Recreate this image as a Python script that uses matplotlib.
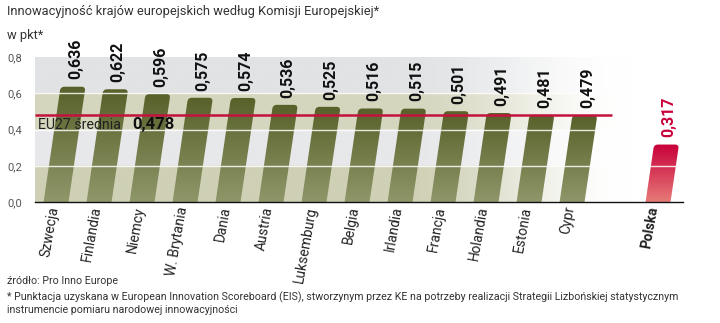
import numpy as np
import matplotlib
matplotlib.use("Agg")
import matplotlib.pyplot as plt
from matplotlib.patches import FancyBboxPatch
from matplotlib.transforms import Affine2D
from matplotlib.colors import to_rgb

countries = ["Szwecja", "Finlandia", "Niemcy", "W. Brytania", "Dania", "Austria",
             "Luksemburg", "Belgia", "Irlandia", "Francja", "Holandia", "Estonia", "Cypr"]
values = [0.636, 0.622, 0.596, 0.575, 0.574, 0.536, 0.525, 0.516, 0.515, 0.501,
          0.491, 0.481, 0.479]
poland_label = "Polska"
poland_value = 0.317
eu_avg = 0.478
yticks = [0.0, 0.2, 0.4, 0.6, 0.8]
ytick_labels = ["0,0", "0,2", "0,4", "0,6", "0,8"]

title = "Innowacyjność krajów europejskich według Komisji Europejskiej*"
unit = "w pkt*"
source = "źródło: Pro Inno Europe"
note1 = ("* Punktacja uzyskana w European Innovation Scoreboard (EIS), stworzynym przez KE "
         "na potrzeby realizacji Strategii Lizbońskiej statystycznym")
note2 = "instrumencie pomiaru narodowej innowacyjności"

TXT = ["Roboto", "DejaVu Sans"]
NUM = ["Roboto", "DejaVu Sans"]

fig = plt.figure(figsize=(7.2, 3.23), dpi=100)
ax = fig.add_axes([35 / 720, 1 - 202 / 323, (683 - 35) / 720, 145 / 323])
xmin, xmax = -0.49, 14.58
ax.set_xlim(xmin, xmax)
ax.set_ylim(0, 0.8)

# background bands fading to white on the right
band_cols = ["#cfd0b5", "#e7e8ea", "#d5d6be", "#e1e3e5"]
ny, nx = 400, 600
img = np.ones((ny, nx, 3))
yy = np.linspace(0, 0.8, ny, endpoint=False)
px = 35 + np.linspace(0, 1, nx) * (683 - 35)
t = np.clip((px - 400) / (630 - 400), 0, 1)
t = t * t * (3 - 2 * t)
for r in range(ny):
    c = np.array(to_rgb(band_cols[min(int(yy[r] / 0.2), 3)]))
    img[r] = c[None, :] * (1 - t[:, None]) + t[:, None]
ax.imshow(img, extent=(xmin, xmax, 0, 0.8), origin="lower", aspect="auto",
          zorder=0, interpolation="bilinear")

k = 0.62     # slant of bars
w = 0.58     # bar width
skew = Affine2D().skew(np.arctan(k), 0) + ax.transData


def draw_bar(x, v, top, bottom, label_color):
    patch = FancyBboxPatch((x - w / 2, -0.05), w, v + 0.05,
                           boxstyle="round,pad=0,rounding_size=0.09",
                           mutation_aspect=0.24, transform=skew,
                           facecolor="none", edgecolor="none", zorder=2)
    ax.add_patch(patch)
    grad = np.linspace(0, 1, 100)[:, None]
    c0 = np.array(to_rgb(bottom)); c1 = np.array(to_rgb(top))
    g = (c0[None, None, :] * (1 - grad[:, :, None]) + c1[None, None, :] * grad[:, :, None])
    im = ax.imshow(g, extent=(x - w / 2 - 0.1, x + w / 2 + k * v + 0.1, 0, v),
                   origin="lower", aspect="auto", zorder=2, interpolation="bilinear")
    im.set_clip_path(patch)
    ax.text(x + k * v + 0.06, v + 0.04, f"{v:.3f}".replace(".", ","),
            rotation=90, ha="center", va="bottom", fontsize=11.5, fontweight="bold",
            family=NUM, color=label_color, clip_on=False, zorder=5)


positions = list(range(len(countries)))
for x, v in zip(positions, values):
    draw_bar(x, v, "#58612a", "#8f9669", "#111111")
px_pl = len(countries) + 1
draw_bar(px_pl, poland_value, "#c8003a", "#e67a78", "#c8003a")

# white grid lines over bars
for yv in yticks[1:-1]:
    ax.axhline(yv, color="white", lw=1.0, alpha=0.85, zorder=3)

# EU average line
ax.plot([xmin, len(countries) - 0.07], [eu_avg, eu_avg], color="#c4123e", lw=1.8,
        zorder=4, solid_capstyle="butt")
ax.text(xmin + 0.07, 0.425, "EU27 średnia", fontsize=10.2, family=TXT, color="#222222",
        va="center", ha="left", zorder=5)
ax.text(1.77, 0.425, f"{eu_avg:.3f}".replace(".", ","), fontsize=12, fontweight="bold",
        family=NUM, color="#111111", va="center", ha="left", zorder=5)

# axes styling
for s in ["top", "right", "left"]:
    ax.spines[s].set_visible(False)
ax.spines["bottom"].set_color("#111111")
ax.spines["bottom"].set_linewidth(1.0)
ax.spines["bottom"].set_zorder(6)
ax.set_yticks(yticks)
ax.set_yticklabels(ytick_labels, family=TXT, fontsize=8, color="#555555")
ax.tick_params(axis="y", length=0, pad=9)
ax.set_xticks([])

# country labels
for x, name in zip(positions, countries):
    ax.text(x - 0.05, -0.025, name, rotation=80, rotation_mode="anchor", ha="right",
            va="center", fontsize=10, family=TXT, color="#222222", clip_on=False)
ax.text(px_pl - 0.1, -0.025, poland_label, rotation=80, rotation_mode="anchor", ha="right",
        va="center", fontsize=10, family=TXT, fontweight="bold", color="#222222",
        clip_on=False)

# texts
fig.text(7 / 720, 1 - 12 / 323, title, family=TXT, fontsize=9.3, color="#333333",
         va="center", ha="left")
fig.text(7 / 720, 1 - 35 / 323, unit, family=TXT, fontsize=9.3, color="#333333",
         va="center", ha="left")
fig.text(7 / 720, 1 - 281 / 323, source, family=TXT, fontsize=7.7, color="#333333",
         va="center", ha="left")
fig.text(7 / 720, 1 - 297 / 323, note1, family=TXT, fontsize=7.7, color="#333333",
         va="center", ha="left")
fig.text(7 / 720, 1 - 310 / 323, note2, family=TXT, fontsize=7.7, color="#333333",
         va="center", ha="left")

fig.savefig("out.png", dpi=100)
